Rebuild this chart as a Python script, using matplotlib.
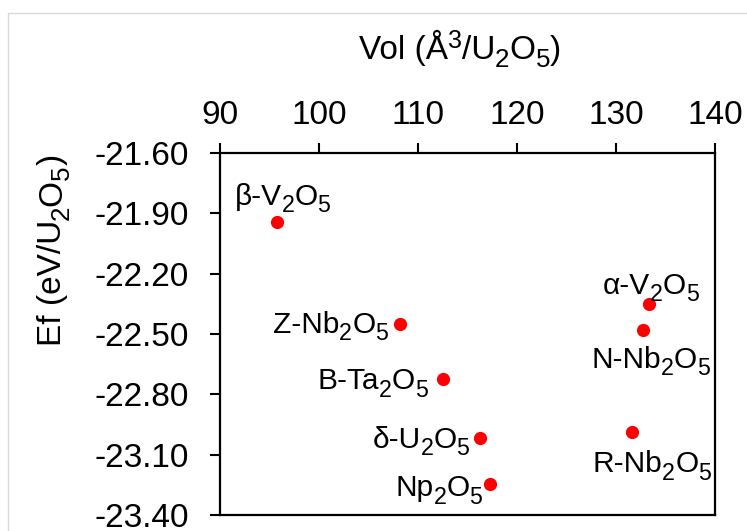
import matplotlib
matplotlib.use("Agg")
import matplotlib.pyplot as plt
from matplotlib.patches import Rectangle
from matplotlib.transforms import offset_copy

plt.rcParams['font.family'] = ['Liberation Sans', 'DejaVu Sans']

# Data
names = ["β-V_2O_5", "Z-Nb_2O_5", "B-Ta_2O_5", "δ-U_2O_5",
         "Np_2O_5", "α-V_2O_5", "N-Nb_2O_5", "R-Nb_2O_5"]
vol = [95.8, 108.2, 112.5, 116.3, 117.3, 133.3, 132.7, 131.6]
ef = [-21.942, -22.451, -22.726, -23.018, -23.248, -22.351, -22.480, -22.989]
xticks = [90, 100, 110, 120, 130, 140]
yticks = [-21.60, -21.90, -22.20, -22.50, -22.80, -23.10, -23.40]
xlabel = "Vol (Å^3/U_2O_5)"
ylabel = "Ef (eV/U_2O_5)"

# label placement: (dx px, dy px, ha)
label_pos = [(5, 17, 'center'), (-12, -9, 'right'), (-15, -10, 'right'),
             (-11, -10, 'right'), (-8, -12, 'right'), (2, 10, 'center'),
             (8, -38, 'center'), (20, -40, 'center')]

W, H = 747, 531
fig = plt.figure(figsize=(W / 100, H / 100), dpi=100)
renderer = fig.canvas.get_renderer()


def parse(s):
    segs, buf, i = [], "", 0
    while i < len(s):
        c = s[i]
        if c in "_^" and i + 1 < len(s):
            if buf:
                segs.append((buf, 0))
                buf = ""
            segs.append((s[i + 1], -1 if c == "_" else 1))
            i += 2
        else:
            buf += c
            i += 1
    if buf:
        segs.append((buf, 0))
    return segs


def rich_text(x, y, s, transform, fs, ha='left', dx=0, dy=0, rotation=0):
    segs = parse(s)
    fpx = fs * 100 / 72
    sizes, shifts, widths = [], [], []
    for txt, kind in segs:
        if kind == 0:
            size, shift = fs, 0
        elif kind == -1:
            size, shift = fs * 0.78, -0.24 * fpx
        else:
            size, shift = fs * 0.75, 0.33 * fpx
        t = fig.text(0, 0, txt, fontsize=size)
        w = t.get_window_extent(renderer).width
        t.remove()
        sizes.append(size)
        shifts.append(shift)
        widths.append(w)
    total = sum(widths)
    start = {'left': 0, 'center': -total / 2, 'right': -total}[ha]
    cum = start
    for (txt, kind), size, shift, w in zip(segs, sizes, shifts, widths):
        if rotation == 90:
            ox, oy = dx - shift, dy + cum
        else:
            ox, oy = dx + cum, dy + shift
        tr = offset_copy(transform, fig=fig, x=ox, y=oy, units='dots')
        fig.text(x, y, txt, transform=tr, fontsize=size, ha='left',
                 va='baseline', rotation=rotation, rotation_mode='anchor',
                 color='black')
        cum += w


ax = fig.add_axes([220 / W, 1 - 515 / H, (715 - 220) / W, (515 - 153) / H])

ax.plot(vol, ef, linestyle='none', marker='o', markersize=9.5,
        color='#ff0000', markeredgewidth=0, zorder=3)

ax.set_xlim(90, 140)
ax.set_ylim(-23.40, -21.60)
ax.set_xticks(xticks)
ax.set_yticks(yticks)
ax.set_yticklabels([f"{v:.2f}" for v in yticks])
ax.xaxis.tick_top()
ax.tick_params(axis='x', which='both', direction='out', length=7.2, width=1.5,
               labelsize=24, pad=8.5, top=True, bottom=False)
ax.tick_params(axis='y', which='both', direction='out', length=7.2, width=1.5,
               labelsize=24, pad=15, left=True, right=False)
for sp in ax.spines.values():
    sp.set_linewidth(1.6)
    sp.set_color('black')

for n, x, y, (dx, dy, ha) in zip(names, vol, ef, label_pos):
    rich_text(x, y, n, ax.transData, 21.5, ha=ha, dx=dx, dy=dy)

rich_text(460 / W, 1 - 59 / H, xlabel, fig.transFigure, 24, ha='center')
rich_text(61 / W, 1 - 250 / H, ylabel, fig.transFigure, 24, ha='center',
          rotation=90)

# light gray outer frame
fig.patches.append(Rectangle((8 / W, -0.2), 1.2, 1.2 - 13 / H,
                             transform=fig.transFigure, fill=False,
                             edgecolor='#d9d9d9', linewidth=1.0))

fig.savefig("out.png", dpi=100)
